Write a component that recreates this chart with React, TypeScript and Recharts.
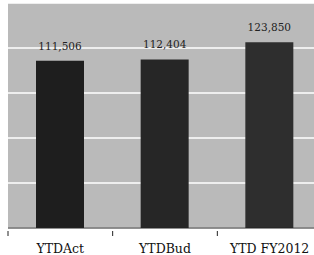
import React from "react";
import { BarChart, Bar, XAxis, YAxis, CartesianGrid, LabelList, Cell } from "recharts";

const categories = ["YTDAct", "YTDBud", "YTD FY2012"];
const values = [111506, 112404, 123850];
const yTicks = [0, 30000, 60000, 90000, 120000, 150000];
const barColors = ["#1e1e1e", "#262626", "#2e2e2e"];

const data = categories.map((name, i) => ({ name, value: values[i] }));

const fmt = (v: number) => v.toLocaleString("en-US");
const serif = "'DejaVu Serif', serif";

const Tick = (props: any) => {
  const { x, y, payload } = props;
  const half = payload && payload.offset ? payload.offset : 52;
  return (
    <g>
      <line x1={x - half} y1={y - 5} x2={x - half} y2={y} stroke="#222" strokeWidth={1} />
      <text x={x} y={y + 17} textAnchor="middle" fill="#111" style={{ fontFamily: serif, fontSize: 12.5 }}>
        {payload.value}
      </text>
    </g>
  );
};

export default function App() {
  return (
    <div style={{ position: "fixed", left: 0, top: 0, width: 314, height: 255, overflow: "hidden", background: "#fff" }}>
      <BarChart width={322} height={255} data={data} margin={{ top: 3, right: 0, left: 8, bottom: 0 }} barSize={48}>
        <CartesianGrid vertical={false} fill="#bababa" stroke="#ffffff" strokeWidth={1.5} />
        <XAxis dataKey="name" height={27} tickLine={false} axisLine={{ stroke: "#222" }} tick={<Tick />} interval={0} />
        <YAxis hide domain={[0, 150000]} ticks={yTicks} />
        <Bar dataKey="value" isAnimationActive={false}>
          {data.map((d, i) => (
            <Cell key={d.name} fill={barColors[i]} />
          ))}
          <LabelList dataKey="value" position="top" offset={11} formatter={fmt} fill="#222" style={{ fontFamily: serif, fontSize: 10.5 }} />
        </Bar>
      </BarChart>
    </div>
  );
}
